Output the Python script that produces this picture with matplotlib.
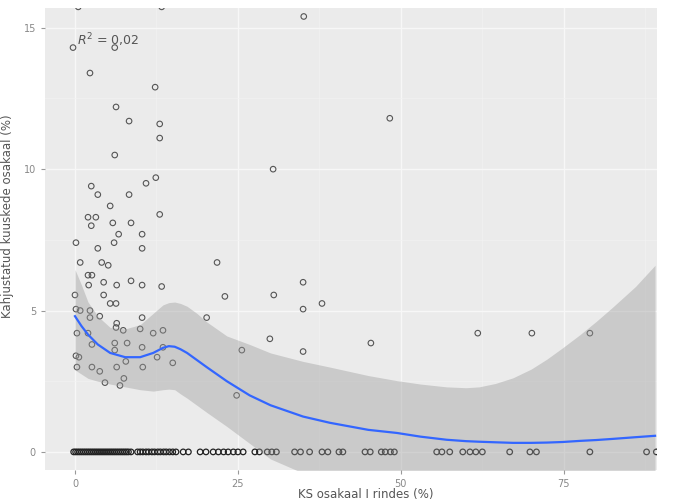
import numpy as np
import matplotlib.pyplot as plt

# scatter points above zero
pts_x = [0.5, 13.3, -0.3, 6.1, 2.3, 12.3, 6.3, 8.3, 13.0, 13.0, 6.1, 35.1, 48.3, 30.4,
         2.5, 3.5, 8.3, 10.9, 12.4, 5.4, 2.0, 3.2, 2.5, 5.8, 8.6, 13.0, 6.7, 10.3,
         0.15, 6.0, 3.5, 10.3, 0.8, 4.1, 5.1, 21.8, 2.0, 2.6, 2.1, 4.4, 6.4, 8.6,
         10.3, 13.3, 23.0, 0.0, 4.4, 5.4, 6.3, 0.15, 0.8, 2.3, 3.8, 2.3, 10.3, 20.2,
         6.4, 7.4, 6.3, 10.0, 12.0, 13.5, 0.3, 2.0, 6.1, 8.0, 10.3, 2.6, 6.1, 13.5,
         0.15, 0.6, 12.6, 7.8, 15.0, 25.6, 0.3, 2.6, 6.4, 10.4, 3.8, 7.5, 4.6, 6.9,
         24.8, 35.0, 30.5, 37.9, 35.0, 29.9, 35.0, 45.4, 61.8, 70.1, 79.0]
pts_y = [15.74, 15.74, 14.3, 14.3, 13.4, 12.9, 12.2, 11.7, 11.6, 11.1, 10.5, 15.4, 11.8, 10.0,
         9.4, 9.1, 9.1, 9.5, 9.7, 8.7, 8.3, 8.3, 8.0, 8.1, 8.1, 8.4, 7.7, 7.7,
         7.4, 7.4, 7.2, 7.2, 6.7, 6.7, 6.6, 6.7, 6.25, 6.25, 5.9, 6.0, 5.9, 6.05,
         5.9, 5.85, 5.5, 5.55, 5.55, 5.25, 5.25, 5.05, 5.0, 5.0, 4.8, 4.75, 4.75, 4.75,
         4.55, 4.3, 4.4, 4.35, 4.2, 4.3, 4.2, 4.2, 3.85, 3.85, 3.7, 3.8, 3.6, 3.7,
         3.4, 3.35, 3.35, 3.2, 3.15, 3.6, 3.0, 3.0, 3.0, 3.0, 2.85, 2.6, 2.45, 2.35,
         2.0, 6.0, 5.55, 5.25, 5.05, 4.0, 3.55, 3.85, 4.2, 4.2, 4.2]

# points sitting on zero
zero_x = [-0.2, 0.1, 0.4, 0.7, 1.0, 1.3, 1.6, 1.9, 2.2, 2.5, 2.8, 3.1, 3.4, 3.7, 4.0,
          4.3, 4.6, 4.9, 5.2, 5.5, 5.8, 6.1, 6.4, 6.7, 7.0, 7.3, 7.6, 7.9, 8.2, 8.6,
          9.6, 10.0, 10.4, 10.9, 11.3, 11.8, 12.2, 12.7, 13.1, 13.6, 14.0, 14.5, 15.0, 15.5,
          16.6, 17.4, 19.2, 20.1, 21.2, 22.0, 22.8, 23.5, 24.3, 25.0, 25.8,
          27.6, 28.3, 29.5, 30.2, 30.9, 33.7, 34.6, 36.0, 37.9, 38.8, 40.5, 41.1,
          44.5, 45.3, 47.0, 47.6, 48.4, 49.0, 55.5, 56.3, 57.5, 59.5, 60.6, 61.5, 62.5,
          66.7, 69.8, 70.8, 79.0, 87.7, 89.2]
zero_y = [0.0] * len(zero_x)

# loess fit and confidence band
fit_x = [0, 1, 2, 3.5, 5.4, 7.7, 10, 12, 13.5, 14.4, 15.3, 16.2, 17.2, 18.7, 20.2, 23.3,
         26.8, 30, 35, 39.1, 45, 49.4, 53, 57, 60, 62, 64.5, 67.2, 70, 72.4, 74.8, 77.5,
         80, 82.5, 86, 89]
fit_y = [4.8, 4.45, 4.15, 3.8, 3.5, 3.35, 3.35, 3.5, 3.68, 3.74, 3.72, 3.63, 3.5, 3.25, 3.0,
         2.5, 2.0, 1.65, 1.25, 1.03, 0.78, 0.67, 0.54, 0.43, 0.38, 0.36, 0.34, 0.32, 0.32,
         0.33, 0.35, 0.39, 0.42, 0.46, 0.52, 0.57]
fit_hi = [6.45, 5.9, 5.3, 4.8, 4.4, 4.35, 4.5, 4.9, 5.2, 5.28, 5.3, 5.25, 5.15, 4.9, 4.6,
          4.1, 3.8, 3.5, 3.2, 3.0, 2.7, 2.52, 2.4, 2.3, 2.27, 2.3, 2.42, 2.62, 2.93, 3.28,
          3.68, 4.15, 4.62, 5.12, 5.85, 6.6]
fit_lo = [2.9, 2.75, 2.6, 2.5, 2.4, 2.3, 2.2, 2.15, 2.2, 2.22, 2.2, 2.05, 1.9, 1.65, 1.4,
          0.9, 0.3, -0.25, -0.75, -0.95, -1.1, -1.15, -1.3, -1.45, -1.5, -1.6, -1.75, -2.0,
          -2.35, -2.7, -3.0, -3.3, -3.7, -4.2, -4.8, -5.5]

fig = plt.figure(figsize=(6.79, 5.04), dpi=100)
ax = fig.add_axes([45/679, 1 - 470/504, 612/679, 462/504])
ax.set_facecolor('#EBEBEB')
for s in ax.spines.values():
    s.set_visible(False)

ax.set_xticks([0, 25, 50, 75])
ax.set_xticks([12.5, 37.5, 62.5, 87.5], minor=True)
ax.set_yticks([0, 5, 10, 15])
ax.set_yticks([2.5, 7.5, 12.5], minor=True)
ax.grid(True, which='major', color='#F7F7F7', lw=1.0)
ax.grid(True, which='minor', color='#F2F2F2', lw=0.5)
ax.set_axisbelow(True)
ax.tick_params(which='major', length=3, color='#999999', labelcolor='#888888', labelsize=7)
ax.tick_params(which='minor', length=0)

ax.scatter(pts_x, pts_y, s=16, facecolors='none', edgecolors='#555555', linewidths=0.8, zorder=2)
ax.scatter(zero_x, zero_y, s=16, facecolors='none', edgecolors='#222222', linewidths=0.9, zorder=2)

ax.fill_between(fit_x, fit_lo, fit_hi, color='#999999', alpha=0.4, lw=0, zorder=3)
ax.plot(fit_x, fit_y, color='#3366FF', lw=1.6, zorder=4)

ax.text(0.3, 14.55, r'$R^2$ = 0,02', fontsize=9, color='#555555', va='center', ha='left', zorder=5)

ax.set_xlim(-4.6, 89.3)
ax.set_ylim(-0.64, 15.7)

ax.set_xlabel('KS osakaal I rindes (%)', fontsize=8.5, color='#555555')
ax.set_ylabel('Kahjustatud kuuskede osakaal (%)', fontsize=8.5, color='#555555')
ax.xaxis.set_label_coords(0.524, -0.04)
ax.yaxis.set_label_coords(-0.05, 0.55)

fig.savefig('out.png', dpi=100)
